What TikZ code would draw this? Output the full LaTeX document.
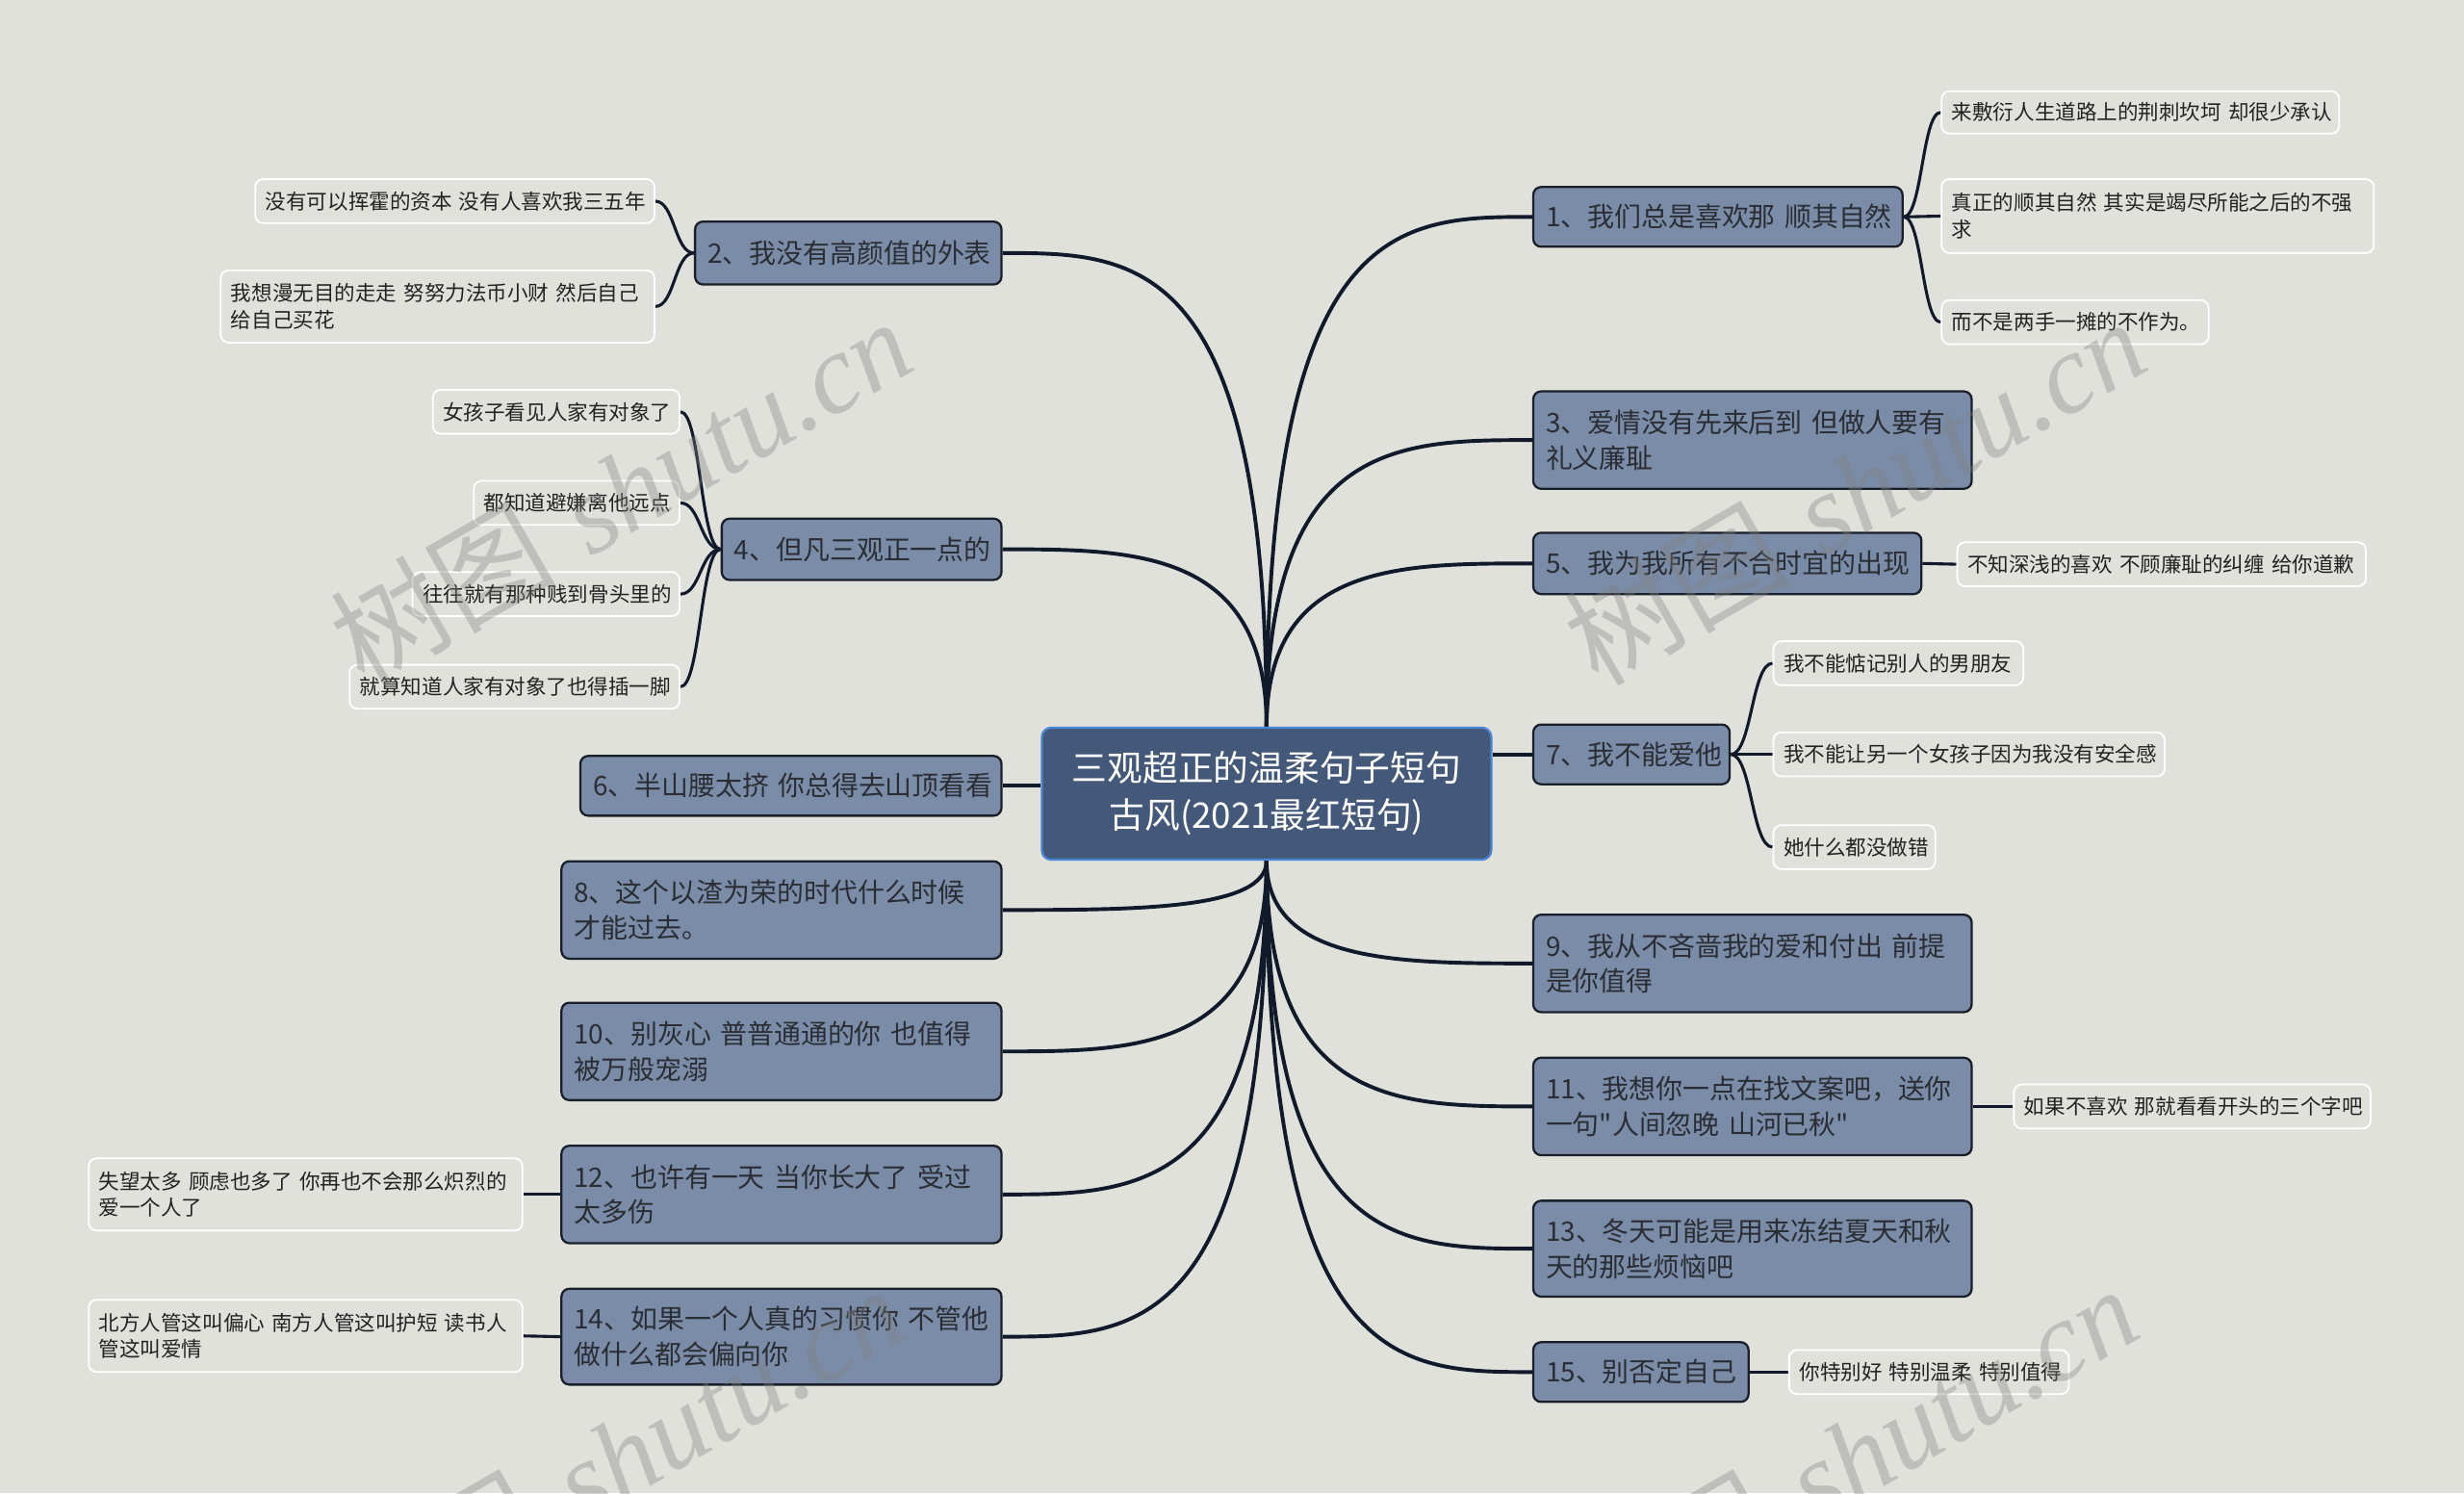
\documentclass[tikz,border=0pt]{standalone}
\usepackage{fontspec}
\newfontfamily\cjk{Noto Sans CJK SC}
\newfontfamily\wmfont{Liberation Serif}
\usetikzlibrary{calc}
\definecolor{bgc}{HTML}{E1E1DC}
\definecolor{brfill}{HTML}{7A8CA8}
\definecolor{brd}{HTML}{1A202A}
\definecolor{rootfill}{HTML}{44597A}
\definecolor{rootbrd}{HTML}{4A84D4}
\definecolor{conncol}{HTML}{101A2A}
\definecolor{btxt}{HTML}{2A2D33}
\definecolor{ltxt}{HTML}{222222}
\definecolor{wmcol}{HTML}{808080}
\pgfdeclarelayer{bg}
\pgfdeclarelayer{edges}
\pgfsetlayers{bg,edges,main}
\tikzset{
  rootbox/.style={draw=rootbrd, fill=rootfill, line width=1.4pt, rounded corners=6pt,
    font=\cjk\fontsize{22.5}{30}\selectfont, text=white, align=center, inner sep=2pt},
  branch/.style={draw=brd, fill=brfill, line width=1.4pt, rounded corners=5pt,
    font=\cjk\fontsize{17.1}{22.5}\selectfont, text=btxt, align=left, inner xsep=8pt, inner ysep=2pt},
  leaf/.style={draw=white, fill=bgc, line width=1.1pt, rounded corners=5pt,
    font=\cjk\fontsize{13.2}{17}\selectfont, text=ltxt, align=left, inner xsep=6.5pt, inner ysep=2pt},
  conn/.style={draw=conncol, line width=2.4pt},
  lconn/.style={draw=conncol, line width=1.9pt},
  wm/.style={text=wmcol, opacity=0.36, font=\fontsize{72}{80}\selectfont, inner sep=0pt}
}
\newcommand\rcurve[2]{\draw[conn] (#1) .. controls (#1 |- #2) and ($(#1 |- #2)!0.5!(#2)$) .. (#2);}
\newcommand\lcurve[2]{\draw[lconn] (#1) .. controls ($(#1)!0.5!(#1 -| #2)$) and ($(#2)!0.5!(#2 -| #1)$) .. (#2);}
\begin{document}
\begin{tikzpicture}[x=1pt,y=-1pt]
\begin{pgfonlayer}{bg}
\fill[bgc] (0,0) rectangle (1568,950);
\end{pgfonlayer}
\useasboundingbox (0,0) rectangle (1568,950);

% root
\node[rootbox, minimum width=286, minimum height=84, text width=280] (root) at (806,505)
  {三观超正的温柔句子短句\\古风(2021最红短句)};

% right branches
\node[branch, anchor=west, minimum width=235, minimum height=38, text width=219] (b1) at (975,138) {1、我们总是喜欢那~顺其自然};
\node[branch, anchor=west, minimum width=279, minimum height=62, text width=263] (b3) at (975,280) {3、爱情没有先来后到~但做人要有\\礼义廉耻};
\node[branch, anchor=west, minimum width=247, minimum height=39, text width=231] (b5) at (975,358.5) {5、我为我所有不合时宜的出现};
\node[branch, anchor=west, minimum width=125, minimum height=38, text width=109] (b7) at (975,480) {7、我不能爱他};
\node[branch, anchor=west, minimum width=279, minimum height=62, text width=263] (b9) at (975,613) {9、我从不吝啬我的爱和付出~前提\\是你值得};
\node[branch, anchor=west, minimum width=279, minimum height=62, text width=263] (b11) at (975,704) {11、我想你一点在找文案吧，送你\\一句"人间忽晚~山河已秋"};
\node[branch, anchor=west, minimum width=279, minimum height=61, text width=263] (b13) at (975,794.5) {13、冬天可能是用来冻结夏天和秋\\天的那些烦恼吧};
\node[branch, anchor=west, minimum width=137, minimum height=38, text width=121] (b15) at (975,873) {15、别否定自己};

% left branches
\node[branch, anchor=east, minimum width=195, minimum height=40, text width=179] (b2) at (638,161) {2、我没有高颜值的外表};
\node[branch, anchor=east, minimum width=178, minimum height=39, text width=162] (b4) at (638,349.5) {4、但凡三观正一点的};
\node[branch, anchor=east, minimum width=268, minimum height=38, text width=252] (b6) at (638,500) {6、半山腰太挤~你总得去山顶看看};
\node[branch, anchor=east, minimum width=280, minimum height=62, text width=264] (b8) at (638,579) {8、这个以渣为荣的时代什么时候\\才能过去。};
\node[branch, anchor=east, minimum width=280, minimum height=62, text width=264] (b10) at (638,669) {10、别灰心~普普通通的你~也值得\\被万般宠溺};
\node[branch, anchor=east, minimum width=280, minimum height=62, text width=264] (b12) at (638,760) {12、也许有一天~当你长大了~受过\\太多伤};
\node[branch, anchor=east, minimum width=280, minimum height=61, text width=264] (b14) at (638,850.5) {14、如果一个人真的习惯你~不管他\\做什么都会偏向你};

% right leaves
\node[leaf, anchor=west, minimum width=253, minimum height=27, text width=240] (l1a) at (1235,71.5) {来敷衍人生道路上的荆刺坎坷~却很少承认};
\node[leaf, anchor=west, minimum width=275, minimum height=47, text width=262] (l1b) at (1235,137.5) {真正的顺其自然~其实是竭尽所能之后的不强\\求};
\node[leaf, anchor=west, minimum width=170, minimum height=28, text width=157] (l1c) at (1235,205) {而不是两手一摊的不作为。};
\node[leaf, anchor=west, minimum width=260, minimum height=28, text width=247] (l5a) at (1245,359) {不知深浅的喜欢~不顾廉耻的纠缠~给你道歉};
\node[leaf, anchor=west, minimum width=159, minimum height=28, text width=146] (l7a) at (1128,422) {我不能惦记别人的男朋友};
\node[leaf, anchor=west, minimum width=249, minimum height=28, text width=236] (l7b) at (1128,480) {我不能让另一个女孩子因为我没有安全感};
\node[leaf, anchor=west, minimum width=103, minimum height=28, text width=90] (l7c) at (1128,539) {她什么都没做错};
\node[leaf, anchor=west, minimum width=227, minimum height=28, text width=214] (l11a) at (1281,704) {如果不喜欢~那就看看开头的三个字吧};
\node[leaf, anchor=west, minimum width=178, minimum height=28, text width=165] (l15a) at (1138,873) {你特别好~特别温柔~特别值得};

% left leaves
\node[leaf, anchor=east, minimum width=254, minimum height=28, text width=241] (l2a) at (417,128) {没有可以挥霍的资本~没有人喜欢我三五年};
\node[leaf, anchor=east, minimum width=276, minimum height=46, text width=263] (l2b) at (417,195) {我想漫无目的走走~努努力法币小财~然后自己\\给自己买花};
\node[leaf, anchor=east, minimum width=157, minimum height=28, text width=144] (l4a) at (433,262) {女孩子看见人家有对象了};
\node[leaf, anchor=east, minimum width=131, minimum height=28, text width=118] (l4b) at (433,320) {都知道避嫌离他远点};
\node[leaf, anchor=east, minimum width=170, minimum height=28, text width=157] (l4c) at (433,378) {往往就有那种贱到骨头里的};
\node[leaf, anchor=east, minimum width=210, minimum height=28, text width=197] (l4d) at (433,437) {就算知道人家有对象了也得插一脚};
\node[leaf, anchor=east, minimum width=276, minimum height=46, text width=263] (l12a) at (333,760) {失望太多~顾虑也多了~你再也不会那么炽烈的\\爱一个人了};
\node[leaf, anchor=east, minimum width=276, minimum height=46, text width=263] (l14a) at (333,850) {北方人管这叫偏心~南方人管这叫护短~读书人\\管这叫爱情};

% connectors
\begin{pgfonlayer}{edges}
\rcurve{root.north}{b1.west}
\rcurve{root.north}{b3.west}
\rcurve{root.north}{b5.west}
\rcurve{root.north}{b2.east}
\rcurve{root.north}{b4.east}
\rcurve{root.south}{b9.west}
\rcurve{root.south}{b11.west}
\rcurve{root.south}{b13.west}
\rcurve{root.south}{b15.west}
\rcurve{root.south}{b8.east}
\rcurve{root.south}{b10.east}
\rcurve{root.south}{b12.east}
\rcurve{root.south}{b14.east}
\draw[conn] (b7.west) -- (b7.west -| root.east);
\draw[conn] (b6.east) -- (b6.east -| root.west);
\lcurve{b1.east}{l1a.west}
\lcurve{b1.east}{l1b.west}
\lcurve{b1.east}{l1c.west}
\lcurve{b7.east}{l7a.west}
\lcurve{b7.east}{l7b.west}
\lcurve{b7.east}{l7c.west}
\lcurve{b2.west}{l2a.east}
\lcurve{b2.west}{l2b.east}
\lcurve{b4.west}{l4a.east}
\lcurve{b4.west}{l4b.east}
\lcurve{b4.west}{l4c.east}
\lcurve{b4.west}{l4d.east}
\draw[lconn] (b5.east) -- (l5a.west);
\draw[lconn] (b11.east) -- (l11a.west);
\draw[lconn] (b15.east) -- (l15a.west);
\draw[lconn] (b12.west) -- (l12a.east);
\draw[lconn] (b14.west) -- (l14a.east);
\end{pgfonlayer}

% watermarks
\node[wm, rotate=30] (wm1) at (395,312) {{\cjk 树图}~{\wmfont\itshape shutu.cn}};
\node[wm, rotate=30] (wm2) at (1180,312) {{\cjk 树图}~{\wmfont\itshape shutu.cn}};
\node[wm, rotate=30] (wm3) at (390,928) {{\cjk 树图}~{\wmfont\itshape shutu.cn}};
\node[wm, rotate=30] (wm4) at (1175,928) {{\cjk 树图}~{\wmfont\itshape shutu.cn}};
\end{tikzpicture}
\end{document}
